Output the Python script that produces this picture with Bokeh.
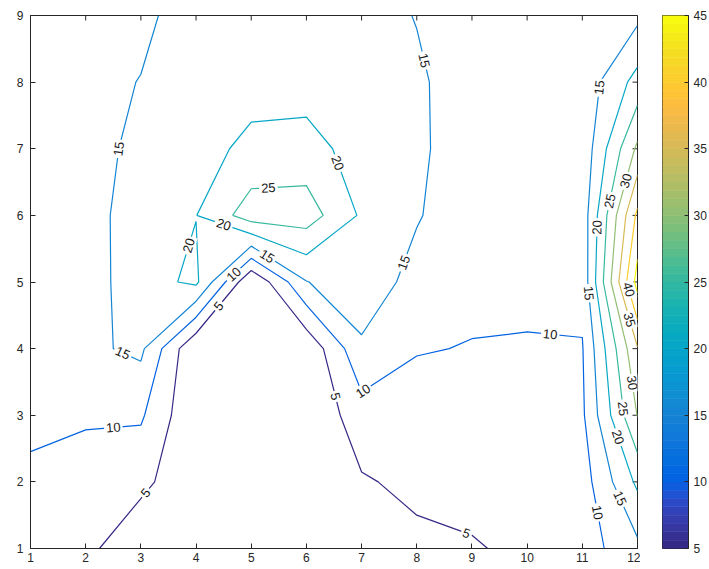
import math
import numpy as np
from contourpy import contour_generator
from bokeh.plotting import figure
from bokeh.layouts import row
from bokeh.models import ColumnDataSource, FixedTicker, Range1d
from bokeh.core.properties import value
from bokeh.embed import file_html
from bokeh.resources import INLINE

# ---- data: sampled surface on an integer grid -------------------------------
x_vals = list(range(1, 13))          # columns
y_vals = list(range(1, 10))          # rows

# one list per row (y = 1 .. 9), values for x = 1 .. 12
z_y1 = [7.0, 6.0, 2.0, 1.5, 1.0, 2.0, 3.0, 3.83, 4.2, 7.0, 7.5, 13.8]
z_y2 = [8.5, 8.0, 6.0, 2.0, 1.0, 1.5, 4.5, 6.17, 8.2, 8.0, 7.7, 21.0]
z_y3 = [11.8, 10.56, 10.7, 0.4, 0.5, 0.5, 7.85, 6.0, 8.5, 8.5, 9.2, 30.2]
z_y4 = [12.5, 14.0, 16.0, 0.2, 0.5, 1.0, 14.0, 10.5, 9.65, 9.5, 9.7, 34.7]
z_y5 = [12.0, 12.5, 18.0, 21.0, 0.3, 14.8, 18.8, 12.8, 12.0, 11.5, 11.5, 47.0]
z_y6 = [12.0, 13.4, 17.0, 19.9, 27.6, 27.5, 19.3, 15.5, 11.0, 12.0, 12.1, 41.1]
z_y7 = [11.5, 12.75, 16.5, 18.3, 21.1, 21.9, 17.9, 16.0, 12.0, 12.0, 11.5, 31.0]
z_y8 = [11.5, 13.0, 15.2, 17.0, 18.35, 17.9, 17.5, 15.8, 12.3, 12.0, 11.8, 21.8]
z_y9 = [11.5, 12.5, 13.5, 18.2, 19.0, 18.5, 17.0, 14.8, 12.5, 12.0, 12.0, 13.8]

levels = [5, 10, 15, 20, 25, 30, 35, 40, 45]
cbar_ticks = [5, 10, 15, 20, 25, 30, 35, 40, 45]
x_ticks = list(range(1, 13))
y_ticks = list(range(1, 10))

# ---- parula colour map (64 entries) ----------------------------------------
PARULA_RGB = [
    (0.2081, 0.1663, 0.5292), (0.2116, 0.1898, 0.5777), (0.2123, 0.2138, 0.6270),
    (0.2081, 0.2386, 0.6771), (0.1959, 0.2645, 0.7279), (0.1707, 0.2919, 0.7792),
    (0.1253, 0.3242, 0.8303), (0.0591, 0.3598, 0.8683), (0.0117, 0.3875, 0.8820),
    (0.0060, 0.4086, 0.8828), (0.0165, 0.4266, 0.8786), (0.0329, 0.4430, 0.8720),
    (0.0498, 0.4586, 0.8641), (0.0629, 0.4737, 0.8554), (0.0723, 0.4887, 0.8467),
    (0.0779, 0.5040, 0.8384), (0.0793, 0.5200, 0.8312), (0.0749, 0.5375, 0.8263),
    (0.0641, 0.5570, 0.8240), (0.0488, 0.5772, 0.8228), (0.0343, 0.5966, 0.8199),
    (0.0265, 0.6137, 0.8135), (0.0239, 0.6287, 0.8038), (0.0231, 0.6418, 0.7913),
    (0.0228, 0.6535, 0.7768), (0.0267, 0.6642, 0.7607), (0.0384, 0.6743, 0.7436),
    (0.0590, 0.6838, 0.7254), (0.0843, 0.6928, 0.7062), (0.1133, 0.7015, 0.6859),
    (0.1453, 0.7098, 0.6646), (0.1801, 0.7177, 0.6424), (0.2178, 0.7250, 0.6193),
    (0.2586, 0.7317, 0.5954), (0.3022, 0.7376, 0.5712), (0.3482, 0.7424, 0.5473),
    (0.3953, 0.7459, 0.5244), (0.4420, 0.7481, 0.5033), (0.4871, 0.7491, 0.4840),
    (0.5300, 0.7491, 0.4661), (0.5709, 0.7485, 0.4494), (0.6099, 0.7473, 0.4337),
    (0.6473, 0.7456, 0.4188), (0.6834, 0.7435, 0.4044), (0.7184, 0.7411, 0.3905),
    (0.7525, 0.7384, 0.3768), (0.7858, 0.7356, 0.3633), (0.8185, 0.7327, 0.3498),
    (0.8507, 0.7299, 0.3360), (0.8824, 0.7274, 0.3217), (0.9139, 0.7258, 0.3063),
    (0.9450, 0.7261, 0.2886), (0.9739, 0.7314, 0.2666), (0.9938, 0.7455, 0.2403),
    (0.9990, 0.7653, 0.2164), (0.9955, 0.7861, 0.1967), (0.9880, 0.8066, 0.1794),
    (0.9789, 0.8271, 0.1633), (0.9697, 0.8481, 0.1475), (0.9626, 0.8705, 0.1309),
    (0.9589, 0.8949, 0.1132), (0.9598, 0.9218, 0.0948), (0.9661, 0.9514, 0.0755),
    (0.9763, 0.9831, 0.0538),
]
parula = ["#%02x%02x%02x" % tuple(int(round(c * 255)) for c in rgb) for rgb in PARULA_RGB]
C_LOW, C_HIGH = cbar_ticks[0], cbar_ticks[-1]


def level_color(lv):
    idx = int((lv - C_LOW) / (C_HIGH - C_LOW) * len(parula))
    return parula[min(max(idx, 0), len(parula) - 1)]


# ---- contour lines ----------------------------------------------------------
Z = np.array([z_y1, z_y2, z_y3, z_y4, z_y5, z_y6, z_y7, z_y8, z_y9])
X, Y = np.meshgrid(np.array(x_vals, dtype=float), np.array(y_vals, dtype=float))
gen = contour_generator(x=X, y=Y, z=Z, name="serial", line_type="Separate")

level_lines = {}
xs, ys, cols = [], [], []
for lv in levels:
    segs = gen.lines(lv)
    level_lines[lv] = segs
    for s in segs:
        xs.append(s[:, 0].tolist())
        ys.append(s[:, 1].tolist())
        cols.append(level_color(lv))

# ---- main contour figure ----------------------------------------------------
FRAME_W, FRAME_H = 607, 533
SX = FRAME_W / (x_vals[-1] - x_vals[0])
SY = FRAME_H / (y_vals[-1] - y_vals[0])
AX_COLOR = "#262626"
FONT = "Liberation Sans"

p = figure(width=640, height=569, output_backend="svg", toolbar_location=None,
           x_range=Range1d(x_vals[0], x_vals[-1]), y_range=Range1d(y_vals[0], y_vals[-1]),
           min_border_left=30, min_border_top=15, min_border_bottom=21, min_border_right=3)
p.grid.visible = False
p.outline_line_color = AX_COLOR
p.outline_line_width = 1
p.background_fill_color = "white"
p.border_fill_color = "white"

p.xaxis.ticker = FixedTicker(ticks=x_ticks)
p.yaxis.ticker = FixedTicker(ticks=y_ticks)
for ax in (p.xaxis[0], p.yaxis[0]):
    ax.major_tick_in = 5
    ax.major_tick_out = 0
    ax.minor_tick_line_color = None
    ax.axis_line_color = AX_COLOR
    ax.major_tick_line_color = AX_COLOR
    ax.major_label_text_font = FONT
    ax.major_label_text_font_size = "12px"
    ax.major_label_text_color = AX_COLOR
p.yaxis.major_label_standoff = 7
p.xaxis.major_label_standoff = 4

# mirrored tick marks on the top and right edges of the box
p.ray(x=x_ticks, y=[y_vals[-1]] * len(x_ticks), length=5, length_units="screen",
      angle=-math.pi / 2, line_color=AX_COLOR, line_width=1)
p.ray(x=[x_vals[-1]] * len(y_ticks), y=y_ticks, length=5, length_units="screen",
      angle=math.pi, line_color=AX_COLOR, line_width=1)

line_src = ColumnDataSource(dict(xs=xs, ys=ys, color=cols))
p.multi_line(xs="xs", ys="ys", line_color="color", line_width=1.2, source=line_src)

# ---- inline level labels ----------------------------------------------------
label_anchors = [
    (15, 2.59, 7.00), (20, 4.50, 5.86), (20, 3.86, 5.55), (25, 5.31, 6.42),
    (20, 6.55, 6.78), (15, 5.30, 5.40), (10, 4.62, 5.17), (5, 4.35, 4.68),
    (15, 2.67, 3.93), (10, 2.50, 2.82), (5, 3.08, 1.84), (10, 7.02, 3.37),
    (5, 6.47, 3.27), (15, 7.76, 5.29), (15, 8.16, 8.33), (5, 8.94, 1.32),
    (10, 10.42, 4.23), (15, 11.29, 7.92), (20, 11.29, 5.82), (25, 11.47, 6.22),
    (30, 11.78, 6.52), (15, 11.09, 4.83), (40, 11.81, 4.88), (35, 11.72, 4.40),
    (30, 11.85, 3.48), (25, 11.75, 3.10), (20, 11.64, 2.67), (15, 11.73, 1.77),
    (10, 11.20, 1.53),
]


def snap_to_line(lv, ax_, ay_):
    target = np.array([ax_ * SX, ay_ * SY])
    best = None
    for s in level_lines[lv]:
        pts = s * np.array([SX, SY])
        for a, b in zip(pts[:-1], pts[1:]):
            d = b - a
            l2 = float(d @ d)
            t = 0.0 if l2 == 0 else float(np.clip((target - a) @ d / l2, 0.0, 1.0))
            q = a + t * d
            dist = float(np.hypot(*(target - q)))
            if best is None or dist < best[0]:
                best = (dist, q, d)
    _, q, d = best
    ang = math.atan2(d[1], d[0])
    if ang > math.pi / 2:
        ang -= math.pi
    elif ang <= -math.pi / 2:
        ang += math.pi
    return q[0] / SX, q[1] / SY, ang


lx, ly, la, lt = [], [], [], []
for lv, ax_, ay_ in label_anchors:
    qx, qy, ang = snap_to_line(lv, ax_, ay_)
    lx.append(qx); ly.append(qy); la.append(ang); lt.append(str(lv))

lab_src = ColumnDataSource(dict(x=lx, y=ly, angle=la, text=lt))
p.text(x="x", y="y", text="text", angle="angle", source=lab_src,
       text_font=value(FONT), text_font_size="13px", text_color="#1a1a1a",
       text_align="center", text_baseline="middle",
       background_fill_color="white", padding=2)

# ---- colour bar as its own narrow figure -----------------------------------
cb = figure(width=69, height=569, output_backend="svg", toolbar_location=None,
            x_range=Range1d(0, 1), y_range=Range1d(C_LOW, C_HIGH),
            x_axis_location=None, y_axis_location="right",
            min_border_left=22, min_border_right=19, min_border_top=15, min_border_bottom=21)
cb.grid.visible = False
cb.outline_line_color = AX_COLOR
cb.border_fill_color = "white"
step = (C_HIGH - C_LOW) / len(parula)
bottoms = [C_LOW + i * step for i in range(len(parula))]
tops = [b + step for b in bottoms]
cb.quad(left=0, right=1, bottom=bottoms, top=tops, fill_color=parula,
        line_color=parula, line_width=0.6)
cb.yaxis.ticker = FixedTicker(ticks=cbar_ticks)
cb.yaxis.major_tick_in = 4
cb.yaxis.major_tick_out = 0
cb.yaxis.minor_tick_line_color = None
cb.yaxis.axis_line_color = AX_COLOR
cb.yaxis.major_tick_line_color = AX_COLOR
cb.yaxis.major_label_text_font = FONT
cb.yaxis.major_label_text_font_size = "12px"
cb.yaxis.major_label_text_color = AX_COLOR
cb.yaxis.major_label_standoff = 5

layout = row(p, cb, spacing=0)
open("out.html", "w").write(file_html(layout, INLINE))
